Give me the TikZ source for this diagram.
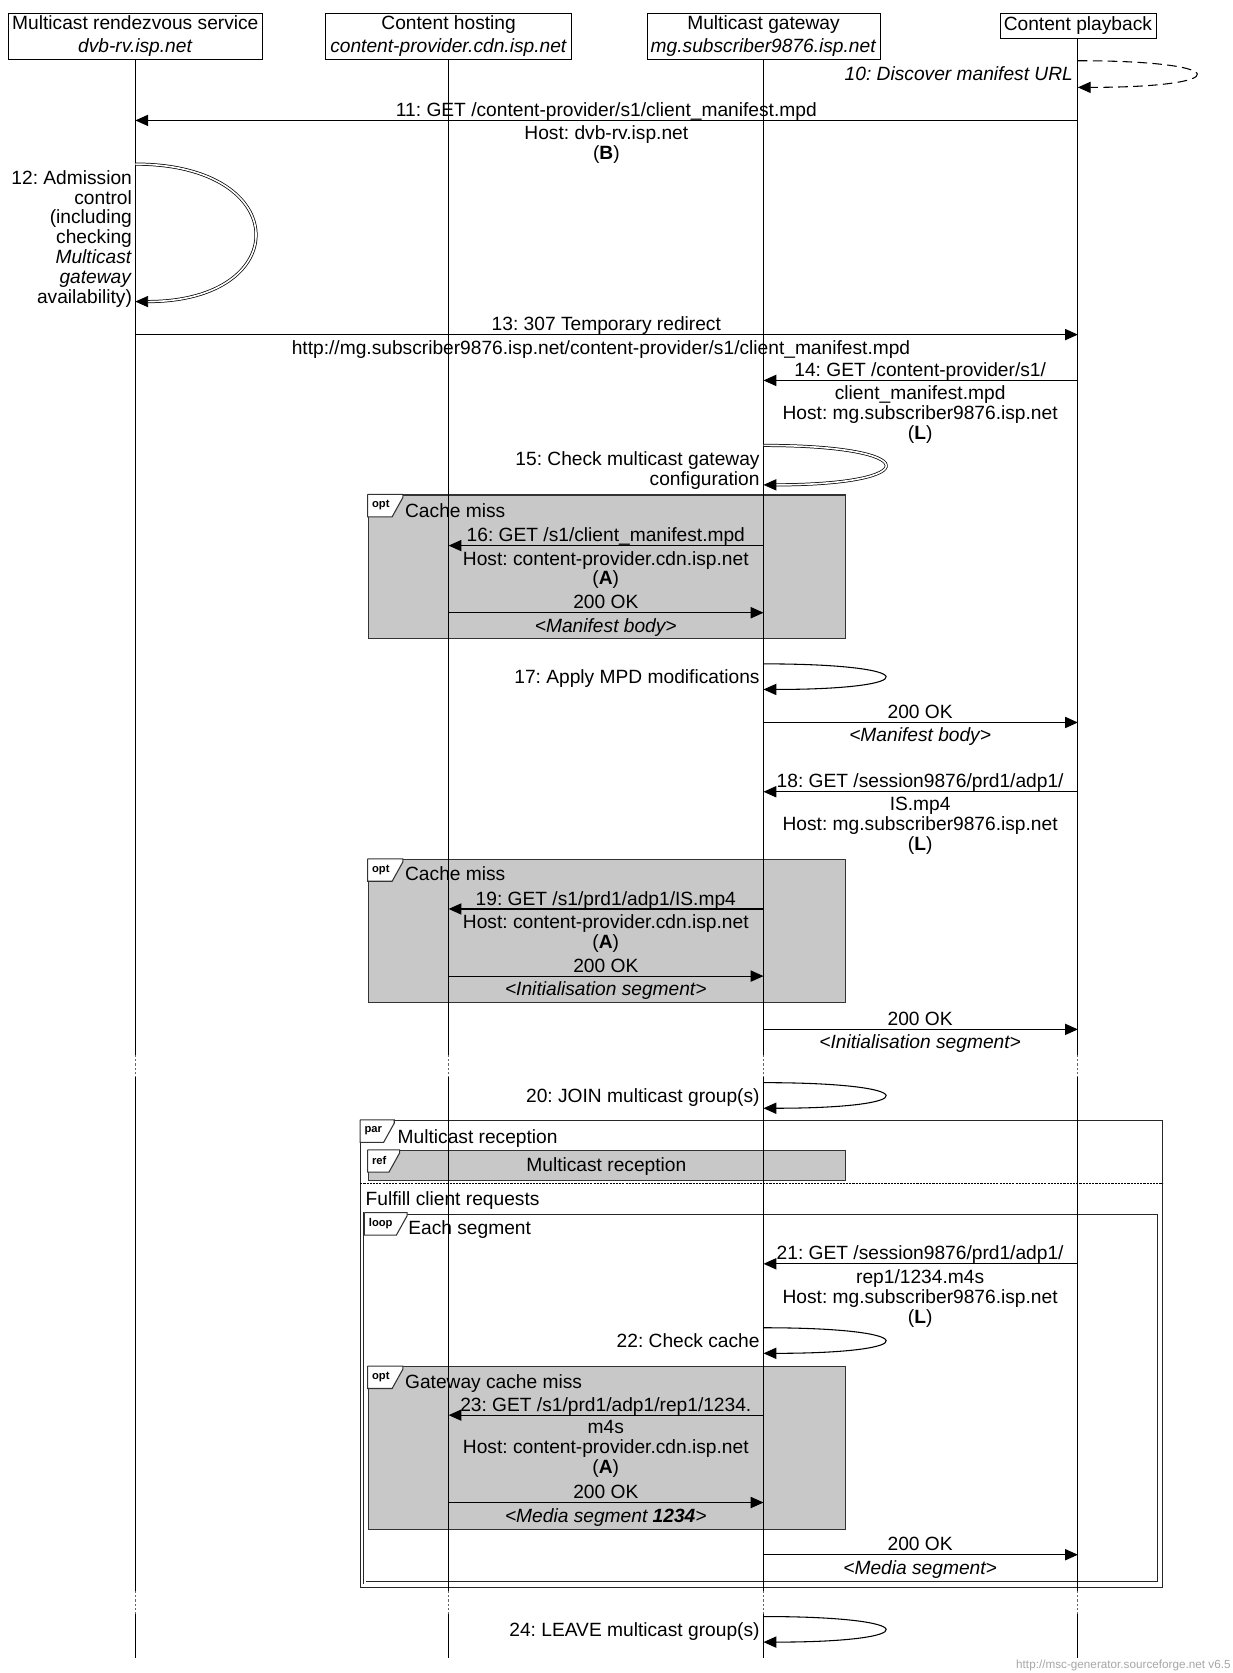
\documentclass[tikz,border=0pt]{standalone}
\usepackage{fontspec}
\setmainfont{Liberation Sans}
\usetikzlibrary{arrows.meta}
\frenchspacing

\definecolor{boxgray}{RGB}{200,200,200}

% small frame tag in the top left corner of a box node
\newcommand{\fragtag}[3]{%
  \draw[draw=black!80,fill=white,line width=1pt] (#1.north west) -- ++(#2,0) -- ++(0,3) -- ++(-10,18) -| (#1.north west);
  \node[font=\bfseries\fontsize{10.5}{11}\selectfont,anchor=west,inner sep=0pt] (#1tag) at ([shift={(4,10)}]#1.north west) {#3};}

\begin{document}
\begin{tikzpicture}[x=1pt,y=-1pt,
    hdr/.style={draw,inner sep=0pt,align=center,font=\fontsize{18}{21}\selectfont},
    lbl/.style={inner sep=0pt,align=center,font=\fontsize{18}{18.7}\selectfont,execute at begin node=\strut},
    arr/.style={line width=1pt,-{Triangle[length=12pt,width=10.5pt]}},
    darr/.style={line width=0.7pt,double,double distance=1.5pt,-{Triangle[length=12pt,width=10.5pt]}},
    life/.style={line width=1pt},
    lifegap/.style={line width=0.8pt,dash pattern=on 2pt off 2pt,black!60},
    optbox/.style={draw=black!80,fill=boxgray,line width=1pt,inner sep=0pt,anchor=north west},
    frame/.style={draw=black!85,line width=1pt,inner sep=0pt,anchor=north west}]
    \useasboundingbox (0,0) rectangle (1157,1570);

    % entities
    \node(rv)[hdr,minimum width=239pt,minimum height=43pt] at (127,34){Multicast rendezvous service\\\textit{dvb-rv.isp.net}};
    \node(ch)[hdr,minimum width=231pt,minimum height=43pt] at (421,34){Content hosting\\\textit{content-provider.cdn.isp.net}};
    \node(mg)[hdr,minimum width=219pt,minimum height=43pt] at (716.5,34){Multicast gateway\\\textit{mg.subscriber9876.isp.net}};
    \node(cp)[hdr,minimum width=146.5pt,minimum height=23.5pt] at (1011.5,24.25){Content playback};

    % boxes
    \node(opt1)[optbox,minimum width=448pt,minimum height=135pt] at (345,464){};
    \node(opt2)[optbox,minimum width=448pt,minimum height=134pt] at (345,806){};
    \node(par)[frame,minimum width=752pt,minimum height=438pt] at (338,1051){};
    \node(ref)[optbox,minimum width=448pt,minimum height=28pt] at (345,1079){};
    \node(loop)[frame,double,line width=0.7pt,double distance=1.5pt,minimum width=745pt,minimum height=347pt] at (342,1138){};
    \node(opt3)[optbox,minimum width=448pt,minimum height=153pt] at (345,1282){};
    \draw[line width=0.8pt,dash pattern=on 2pt off 1pt] (par.west |- 0,1111) -- (par.east |- 0,1111);

    % lifelines
    \draw[life] (rv.south) -- (rv |- 0,990) (rv |- 0,1011) -- (rv |- 0,1493) (rv |- 0,1515) -- (rv |- 0,1556);
    \draw[life] (ch.south) -- (ch |- 0,990) (ch |- 0,1011) -- (ch |- 0,1493) (ch |- 0,1515) -- (ch |- 0,1556);
    \draw[life] (mg.south) -- (mg |- 0,990) (mg |- 0,1011) -- (mg |- 0,1493) (mg |- 0,1515) -- (mg |- 0,1556);
    \draw[life] (cp.south) -- (cp |- 0,990) (cp |- 0,1011) -- (cp |- 0,1493) (cp |- 0,1515) -- (cp |- 0,1556);
    \draw[lifegap] (rv |- 0,990) -- (rv |- 0,1011) (rv |- 0,1493) -- (rv |- 0,1515);
    \draw[lifegap] (ch |- 0,990) -- (ch |- 0,1011) (ch |- 0,1493) -- (ch |- 0,1515);
    \draw[lifegap] (mg |- 0,990) -- (mg |- 0,1011) (mg |- 0,1493) -- (mg |- 0,1515);
    \draw[lifegap] (cp |- 0,990) -- (cp |- 0,1011) (cp |- 0,1493) -- (cp |- 0,1515);

    % box tags and titles
    \fragtag{opt1}{33}{opt}
    \fragtag{opt2}{33}{opt}
    \fragtag{par}{32}{par}
    \fragtag{ref}{30}{ref}
    \fragtag{loop}{40}{loop}
    \fragtag{opt3}{33}{opt}
    \node(t1)[lbl,anchor=north west] at (380,472.4){Cache miss};
    \node(t2)[lbl,anchor=north west] at (380,813.4){Cache miss};
    \node(t3)[lbl,anchor=north west] at (373,1059.4){Multicast reception};
    \node(t4)[lbl,anchor=base] at (569,1099.5){Multicast reception};
    \node(t5)[lbl,anchor=north west] at (343,1118.4){Fulfill client requests};
    \node(t6)[lbl,anchor=north west] at (383,1145.4){Each segment};
    \node(t7)[lbl,anchor=north west] at (380,1289.4){Gateway cache miss};

    % 10
    \draw[arr,dash pattern=on 9pt off 5pt] (cp |- 0,57) .. controls (1159,57) and (1159,82) .. (cp |- 0,82);
    \node(m10)[lbl,anchor=north east] at (1007,62.5){\itshape 10: Discover manifest URL};
    % 11
    \draw[arr] (cp |- 0,113) -- (rv |- 0,113);
    \node(m11)[lbl,anchor=north] at (569,96){11: GET /content-provider/s1/client\_manifest.mpd};
    \node(m11b)[lbl,anchor=north] at (569,118){Host: dvb-rv.isp.net\\(\textbf{B})};
    % 12
    \draw[darr] (rv |- 0,154) .. controls (276,154) and (276,283) .. (rv |- 0,283);
    \node(m12)[lbl,anchor=north east,align=right] at (124,159.5){12: Admission\\control\\(including\\checking\hspace*{5pt}\\\textit{Multicast}\\\textit{gateway}\\availability)};
    % 13
    \draw[arr] (rv |- 0,314) -- (cp |- 0,314);
    \node(m13)[lbl,anchor=north] at (569,297){13: 307 Temporary redirect};
    \node(m13b)[lbl,anchor=north] at (564,319){http://mg.subscriber9876.isp.net/content-provider/s1/client\_manifest.mpd};
    % 14
    \draw[arr] (cp |- 0,357) -- (mg |- 0,357);
    \node(m14)[lbl,anchor=north] at (863.5,340){14: GET /content-provider/s1/};
    \node(m14b)[lbl,anchor=north] at (863.5,362){client\_manifest.mpd\\Host: mg.subscriber9876.isp.net\\(\textbf{L})};
    % 15
    \draw[darr] (mg |- 0,418) .. controls (868,418) and (868,455) .. (mg |- 0,455);
    \node(m15)[lbl,anchor=north east,align=right] at (713,423.5){15: Check multicast gateway\\configuration};
    % 16
    \draw[arr] (mg |- 0,512) -- (ch |- 0,512);
    \node(m16)[lbl,anchor=north] at (568.5,495){16: GET /s1/client\_manifest.mpd};
    \node(m16b)[lbl,anchor=north] at (568.5,517){Host: content-provider.cdn.isp.net\\(\textbf{A})};
    \draw[arr] (ch |- 0,575) -- (mg |- 0,575);
    \node(r16)[lbl,anchor=north] at (568.5,558){200 OK};
    \node(r16b)[lbl,anchor=north] at (568.5,580){\itshape <Manifest body>};
    % 17
    \draw[arr] (mg |- 0,623) .. controls (868,623) and (868,647) .. (mg |- 0,647);
    \node(m17)[lbl,anchor=north east] at (713,628.5){17: Apply MPD modifications};
    \draw[arr] (mg |- 0,678) -- (cp |- 0,678);
    \node(r14)[lbl,anchor=north] at (863.5,661){200 OK};
    \node(r14b)[lbl,anchor=north] at (863.5,683){\itshape <Manifest body>};
    % 18
    \draw[arr] (cp |- 0,743) -- (mg |- 0,743);
    \node(m18)[lbl,anchor=north] at (863.5,726){18: GET /session9876/prd1/adp1/};
    \node(m18b)[lbl,anchor=north] at (863.5,748){IS.mp4\\Host: mg.subscriber9876.isp.net\\(\textbf{L})};
    % 19
    \draw[arr] (mg |- 0,853) -- (ch |- 0,853);
    \node(m19)[lbl,anchor=north] at (568.5,836){19: GET /s1/prd1/adp1/IS.mp4};
    \node(m19b)[lbl,anchor=north] at (568.5,858){Host: content-provider.cdn.isp.net\\(\textbf{A})};
    \draw[arr] (ch |- 0,916) -- (mg |- 0,916);
    \node(r19)[lbl,anchor=north] at (568.5,899){200 OK};
    \node(r19b)[lbl,anchor=north] at (568.5,921){\itshape <Initialisation segment>};
    \draw[arr] (mg |- 0,966) -- (cp |- 0,966);
    \node(r18)[lbl,anchor=north] at (863.5,949){200 OK};
    \node(r18b)[lbl,anchor=north] at (863.5,971){\itshape <Initialisation segment>};
    % 20
    \draw[arr] (mg |- 0,1016) .. controls (868,1016) and (868,1040) .. (mg |- 0,1040);
    \node(m20)[lbl,anchor=north east] at (713,1021.5){20: JOIN multicast group(s)};
    % 21
    \draw[arr] (cp |- 0,1186) -- (mg |- 0,1186);
    \node(m21)[lbl,anchor=north] at (863.5,1169){21: GET /session9876/prd1/adp1/};
    \node(m21b)[lbl,anchor=north] at (863.5,1191){rep1/1234.m4s\\Host: mg.subscriber9876.isp.net\\(\textbf{L})};
    % 22
    \draw[arr] (mg |- 0,1246) .. controls (868,1246) and (868,1270) .. (mg |- 0,1270);
    \node(m22)[lbl,anchor=north east] at (713,1251.5){22: Check cache};
    % 23
    \draw[arr] (mg |- 0,1328) -- (ch |- 0,1328);
    \node(m23)[lbl,anchor=north] at (568.5,1311){23: GET /s1/prd1/adp1/rep1/1234.};
    \node(m23b)[lbl,anchor=north] at (568.5,1333){m4s\\Host: content-provider.cdn.isp.net\\(\textbf{A})};
    \draw[arr] (ch |- 0,1410) -- (mg |- 0,1410);
    \node(r23)[lbl,anchor=north] at (568.5,1393){200 OK};
    \node(r23b)[lbl,anchor=north] at (568.5,1415){\itshape <Media segment \textbf{1234}>};
    \draw[arr] (mg |- 0,1459) -- (cp |- 0,1459);
    \node(r21)[lbl,anchor=north] at (863.5,1442){200 OK};
    \node(r21b)[lbl,anchor=north] at (863.5,1464){\itshape <Media segment>};
    % 24
    \draw[arr] (mg |- 0,1517) .. controls (868,1517) and (868,1541) .. (mg |- 0,1541);
    \node(m24)[lbl,anchor=north east] at (713,1522.5){24: LEAVE multicast group(s)};

    \node(wm)[anchor=east,inner sep=0pt,font=\fontsize{11}{12}\selectfont,text=black!35] at (1155,1563){http://msc-generator.sourceforge.net v6.5};
\end{tikzpicture}
\end{document}
